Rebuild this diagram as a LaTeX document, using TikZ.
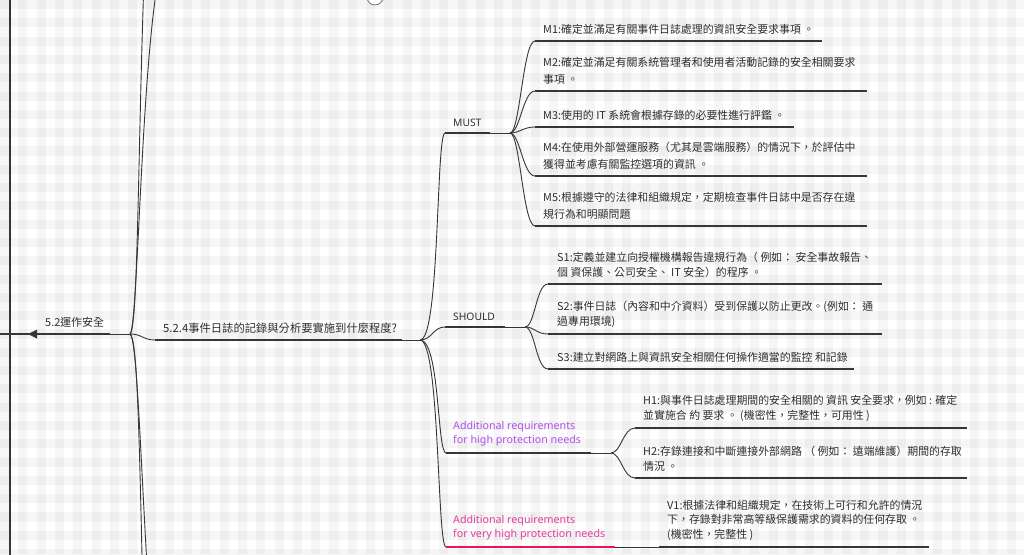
\documentclass[tikz,border=0pt]{standalone}
\usepackage{fontspec}
\newfontfamily\cjk{Noto Sans CJK TC}
\newfontfamily\latf{Noto Sans}
\definecolor{txtc}{HTML}{2E2E2E}
\definecolor{lnc}{HTML}{363636}
\definecolor{purpc}{HTML}{B450EC}
\definecolor{pinkt}{HTML}{E53E9C}
\definecolor{pinkl}{HTML}{E8175D}
\begin{document}
\begin{tikzpicture}[x=1pt,y=-1pt,
  cjkt/.style={anchor=south west, inner sep=0pt, align=left, text=txtc, font=\cjk\fontsize{10.9}{14.5}\selectfont},
  mt/.style={cjkt, font=\cjk\fontsize{10.9}{16.5}\selectfont},
  latt/.style={anchor=south west, inner sep=0pt, align=left, font=\latf\fontsize{10.7}{14.5}\selectfont},
  ul/.style={draw=lnc, line width=2.5pt},
  thinl/.style={draw=lnc, line width=0.9pt},
  conn/.style={draw=lnc, line width=0.9pt},
  cv/.style={conn},
]
\useasboundingbox (0,0) rectangle (1024,554);
\clip (0,0) rectangle (1024,554);
% gingham background
\fill[white] (0,0) rectangle (1024,554);
\foreach \i in {0,...,56} \fill[black, fill opacity=0.035] ({\i*18.3},0) rectangle ({\i*18.3+9.15},554);
\foreach \j in {0,...,30} \fill[black, fill opacity=0.035] (0,{\j*18.3}) rectangle (1024,{\j*18.3+9.15});

% left axis
\coordinate (axT) at (10,-5);
\coordinate (axB) at (10,560);
\draw[lnc, line width=2pt] (axT) -- (axB);

% fold circle at top
\node[circle, draw=lnc!70, line width=0.8pt, fill=white, minimum size=16pt, inner sep=0pt] (fold) at (375,-3) {};

% 5.2 topic
\coordinate (par) at (-2,334);
\coordinate (u52e) at (110,334);
\coordinate (j52) at (130,334);
\draw[ul] (par) -- (u52e);
\fill[lnc] (28,334) -- (37,329.5) -- (37,338.5) -- cycle;
\draw[thinl] (u52e) -- (j52);
\node[cjkt] (t52) at (45,327.5) {5.2運作安全};

% long curves from 5.2 junction
\coordinate (up1) at (144,-20);
\coordinate (up2) at (160,-30);
\coordinate (dn1) at (143,600);
\coordinate (dn2) at (149,600);
\draw[conn] (j52) .. controls (138,330) and (138,150) .. (up1);
\draw[conn] (j52) .. controls (138,330) and (141,60) .. (up2);
\draw[conn] (j52) .. controls (137,338) and (139,420) .. (dn1);
\draw[conn] (j52) .. controls (137,338) and (140,450) .. (dn2);

% 5.2.4 topic
\coordinate (u524s) at (155,340);
\coordinate (u524e) at (402,340);
\coordinate (j524) at (420,340);
\draw[conn] (j52) .. controls +(12,0) and +(-12,0) .. (u524s);
\draw[ul] (u524s) -- (u524e);
\draw[thinl] (u524e) -- (j524);
\node[cjkt, font=\cjk\fontsize{11.3}{14.5}\selectfont] (t524) at (163,333.5) {5.2.4事件日誌的記錄與分析要實施到什麼程度?};

% MUST
\coordinate (umS) at (445,133);
\coordinate (umE) at (490,133);
\coordinate (jm) at (510,133);
\draw[cv] (j524) .. controls +(20,0) and +(-9,0) .. (umS);
\draw[ul] (umS) -- (umE);
\draw[thinl] (umE) -- (jm);
\node[latt, text=txtc, font=\latf\fontsize{10.3}{14.5}\selectfont] (tmust) at (453,126.5) {MUST};

% SHOULD
\coordinate (usS) at (445,327);
\coordinate (usE) at (505,327);
\coordinate (js) at (525,327);
\draw[cv] (j524) .. controls +(12,0) and +(-12,0) .. (usS);
\draw[ul] (usS) -- (usE);
\draw[thinl] (usE) -- (js);
\node[latt, text=txtc, font=\latf\fontsize{10.3}{14.5}\selectfont] (tshould) at (453,320.5) {SHOULD};

% High protection
\coordinate (uhS) at (446,453);
\coordinate (uhE) at (591,453);
\coordinate (jh) at (611,453);
\draw[cv] (j524) .. controls +(20,0) and +(-9,0) .. (uhS);
\draw[ul] (uhS) -- (uhE);
\draw[thinl] (uhE) -- (jh);
\node[latt, text=purpc] (thigh) at (453,446.5) {Additional requirements\\for high protection needs};

% Very high protection
\coordinate (uvS) at (446,547);
\coordinate (uvE) at (615,547);
\draw[cv] (j524) .. controls +(20,0) and +(-9,0) .. (uvS);
\draw[pinkl, line width=2.5pt] (uvS) -- (uvE);
\node[latt, text=pinkt] (tvhigh) at (453,540.5) {Additional requirements\\for very high protection needs};

% MUST children
\coordinate (m1s) at (535,41);  \coordinate (m1e) at (822,41);
\coordinate (m2s) at (535,91);  \coordinate (m2e) at (867,91);
\coordinate (m3s) at (535,127); \coordinate (m3e) at (794,127);
\coordinate (m4s) at (535,176); \coordinate (m4e) at (867,176);
\coordinate (m5s) at (535,226); \coordinate (m5e) at (867,226);
\foreach \k in {m1,m2,m3,m4,m5} {
  \draw[cv] (jm) .. controls +(10,0) and +(-12,0) .. (\k s);
  \draw[ul] (\k s) -- (\k e);
}
\node[mt] (tm1) at (543,34.5) {M1:確定並滿足有關事件日誌處理的資訊安全要求事項 。};
\node[mt] (tm2) at (543,84.5) {M2:確定並滿足有關系統管理者和使用者活動記錄的安全相關要求\\事項 。};
\node[mt] (tm3) at (543,120.5) {M3:使用的 IT 系統會根據存錄的必要性進行評鑑 。};
\node[mt] (tm4) at (543,169.5) {M4:在使用外部營運服務（尤其是雲端服務）的情況下，於評估中\\獲得並考慮有關監控選項的資訊 。};
\node[mt] (tm5) at (543,219.5) {M5:根據遵守的法律和組織規定，定期檢查事件日誌中是否存在違\\規行為和明顯問題};

% SHOULD children
\coordinate (s1s) at (548,284); \coordinate (s1e) at (882,284);
\coordinate (s2s) at (548,334); \coordinate (s2e) at (882,334);
\coordinate (s3s) at (548,369); \coordinate (s3e) at (854,369);
\foreach \k in {s1,s2,s3} {
  \draw[cv] (js) .. controls +(10,0) and +(-12,0) .. (\k s);
  \draw[ul] (\k s) -- (\k e);
}
\node[cjkt] (ts1) at (557,277.5) {S1:定義並建立向授權機構報告違規行為（ 例如：  安全事故報告、\\個 資保護、公司安全、 IT 安全）的程序 。};
\node[cjkt] (ts2) at (557,327.5) {S2:事件日誌（內容和中介資料）受到保護以防止更改。(例如：  通\\過專用環境)};
\node[cjkt] (ts3) at (557,362.5) {S3:建立對網路上與資訊安全相關任何操作適當的監控 和記錄};

% High children
\coordinate (h1s) at (635,428); \coordinate (h1e) at (967,428);
\coordinate (h2s) at (635,478); \coordinate (h2e) at (967,478);
\foreach \k in {h1,h2} {
  \draw[cv] (jh) .. controls +(10,0) and +(-12,0) .. (\k s);
  \draw[ul] (\k s) -- (\k e);
}
\node[cjkt] (th1) at (643,421.5) {H1:與事件日誌處理期間的安全相關的 資訊 安全要求，例如 : 確定\\並實施合 約 要求 。 (機密性，完整性，可用性 )};
\node[cjkt] (th2) at (643,471.5) {H2:存錄連接和中斷連接外部網路 （ 例如：  遠端維護）期間的存取\\情況 。};

% Very high child
\coordinate (v1s) at (659,547); \coordinate (v1e) at (929,547);
\draw[thinl] (uvE) -- (v1s);
\draw[ul] (v1s) -- (v1e);
\node[cjkt] (tv1) at (667,540.5) {V1:根據法律和組織規定，在技術上可行和允許的情況\\下，存錄對非常高等級保護需求的資料的任何存取 。\\(機密性，完整性 )};
\end{tikzpicture}
\end{document}
